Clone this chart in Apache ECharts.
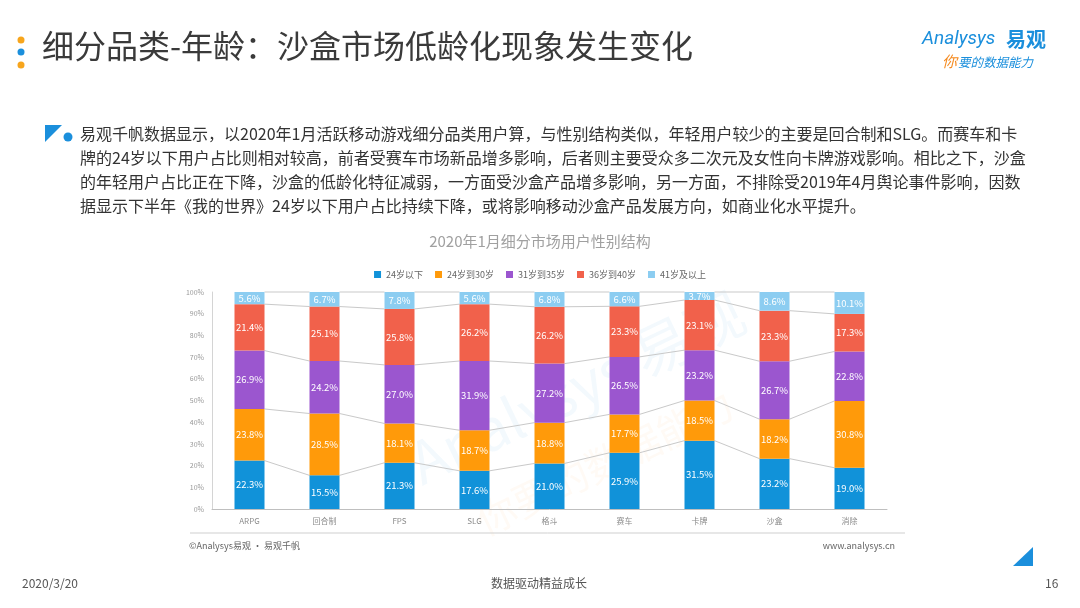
<!DOCTYPE html>
<html>
<head>
<meta charset="utf-8">
<script src="https://cdn.jsdelivr.net/npm/echarts@6/dist/echarts.min.js"></script>
<style>
  html, body { margin: 0; padding: 0; background: #fff; }
  #main { width: 1080px; height: 608px; }
</style>
</head>
<body>
<div id="main"></div>
<script>
// 数据
var categories = ['ARPG', '回合制', 'FPS', 'SLG', '格斗', '赛车', '卡牌', '沙盒', '消除'];
var seriesNames = ['24岁以下', '24岁到30岁', '31岁到35岁', '36岁到40岁', '41岁及以上'];
var under24 = [22.3, 15.5, 21.3, 17.6, 21.0, 25.9, 31.5, 23.2, 19.0];
var age24to30 = [23.8, 28.5, 18.1, 18.7, 18.8, 17.7, 18.5, 18.2, 30.8];
var age31to35 = [26.9, 24.2, 27.0, 31.9, 27.2, 26.5, 23.2, 26.7, 22.8];
var age36to40 = [21.4, 25.1, 25.8, 26.2, 26.2, 23.3, 23.1, 23.3, 17.3];
var over41 = [5.6, 6.7, 7.8, 5.6, 6.8, 6.6, 3.7, 8.6, 10.1];
var yTicks = [0, 10, 20, 30, 40, 50, 60, 70, 80, 90, 100];

var colors = ['#1192d9', '#ff9a0a', '#9b56cf', '#f1614b', '#8ccdf1'];
var allData = [under24, age24to30, age31to35, age36to40, over41];

// 累计值，用来画柱子之间的连接线
var cum = categories.map(function (c, i) {
    var s = 0;
    return allData.map(function (arr) { s += arr[i]; return s; });
});
var linkData = [];
for (var i = 0; i < categories.length - 1; i++) {
    linkData.push([i].concat(cum[i], cum[i + 1]));
}

var myChart = echarts.init(document.getElementById('main'));
var cjk = '"Noto Sans CJK SC", "Noto Sans", sans-serif';

var series = allData.map(function (arr, k) {
    return {
        name: seriesNames[k],
        type: 'bar',
        stack: 'total',
        barWidth: '40%',
        z: 3,
        data: arr,
        itemStyle: { color: colors[k] },
        label: {
            show: true,
            position: 'inside',
            color: '#fff',
            fontSize: 9.5,
            fontFamily: cjk,
            formatter: function (p) { return p.value.toFixed(1) + '%'; }
        }
    };
});

series.push({
    type: 'custom',
    z: 2,
    silent: true,
    data: linkData,
    renderItem: function (params, api) {
        var idx = api.value(0);
        var half = api.size([1, 0])[0] * 0.4 / 2;
        var children = [];
        for (var k = 0; k < 5; k++) {
            var p1 = api.coord([idx, api.value(1 + k)]);
            var p2 = api.coord([idx + 1, api.value(6 + k)]);
            children.push({
                type: 'line',
                shape: { x1: p1[0] + half, y1: p1[1], x2: p2[0] - half, y2: p2[1] },
                style: { stroke: '#c9c9c9', lineWidth: 1 }
            });
        }
        return { type: 'group', children: children };
    }
});

var paraLines = [
    '易观千帆数据显示，以2020年1月活跃移动游戏细分品类用户算，与性别结构类似，年轻用户较少的主要是回合制和SLG。而赛车和卡',
    '牌的24岁以下用户占比则相对较高，前者受赛车市场新品增多影响，后者则主要受众多二次元及女性向卡牌游戏影响。相比之下，沙盒',
    '的年轻用户占比正在下降，沙盒的低龄化特征减弱，一方面受沙盒产品增多影响，另一方面，不排除受2019年4月舆论事件影响，因数',
    '据显示下半年《我的世界》24岁以下用户占比持续下降，或将影响移动沙盒产品发展方向，如商业化水平提升。'
];

var graphics = [
    // 标题左侧圆点
    { type: 'circle', shape: { cx: 21, cy: 40, r: 3.5 }, style: { fill: '#f7a51c' } },
    { type: 'circle', shape: { cx: 21, cy: 52, r: 3.5 }, style: { fill: '#1b8fdc' } },
    { type: 'circle', shape: { cx: 21, cy: 65, r: 3.5 }, style: { fill: '#f7a51c' } },
    { type: 'text', left: 42, top: 30, style: { text: '细分品类-年龄：沙盒市场低龄化现象发生变化', fontSize: 32, fill: '#3a3a3a', fontFamily: cjk } },
    // logo
    { type: 'text', left: 922, top: 30, style: { text: 'Analysys', fontSize: 19, fontStyle: 'italic', fill: '#1b8fdc', fontFamily: 'Roboto, sans-serif' } },
    { type: 'text', left: 1006, top: 29, style: { text: '易观', fontSize: 20, fontWeight: 'bold', fill: '#1b8fdc', fontFamily: cjk } },
    { type: 'text', left: 942, top: 54, style: { text: '你', fontSize: 15, fontStyle: 'italic', fill: '#f58a1f', fontFamily: cjk } },
    { type: 'text', left: 958, top: 56, style: { text: '要的数据能力', fontSize: 12.5, fontStyle: 'italic', fill: '#1b8fdc', fontFamily: cjk } },
    // 段落图标
    { type: 'polygon', shape: { points: [[45, 125], [62, 125], [45, 142]] }, style: { fill: '#1b8fdc' } },
    { type: 'circle', shape: { cx: 68, cy: 137, r: 4.5 }, style: { fill: '#1b8fdc' } },
    // 水印
    { type: 'text', x: 400, y: 440, rotation: Math.PI / 7, style: { text: 'Analysys 易观', fontSize: 58, fill: 'rgba(17,146,217,0.05)', fontFamily: cjk } },
    { type: 'text', x: 470, y: 505, rotation: Math.PI / 7, style: { text: '你要的数据能力', fontSize: 40, fill: 'rgba(245,138,31,0.045)', fontFamily: cjk } },
    // 底部
    { type: 'line', shape: { x1: 190, y1: 533, x2: 905, y2: 533 }, style: { stroke: '#cfcfcf', lineWidth: 1 } },
    { type: 'text', left: 189, top: 541, style: { text: '©Analysys易观 · 易观千帆', fontSize: 9, fill: '#666', fontFamily: cjk } },
    { type: 'text', right: 185, top: 541, style: { text: 'www.analysys.cn', fontSize: 9, fill: '#666', fontFamily: cjk } },
    { type: 'polygon', shape: { points: [[1033, 547], [1033, 566], [1013, 566]] }, style: { fill: '#1b8fdc' } },
    { type: 'text', left: 22, top: 577, style: { text: '2020/3/20', fontSize: 12, fill: '#555', fontFamily: cjk } },
    { type: 'text', left: 491, top: 577, style: { text: '数据驱动精益成长', fontSize: 12, fill: '#555', fontFamily: cjk } },
    { type: 'text', left: 1045, top: 577, style: { text: '16', fontSize: 12, fill: '#555', fontFamily: cjk } }
];
paraLines.forEach(function (t, n) {
    graphics.push({
        type: 'text', left: 80, top: 126 + n * 24,
        style: { text: t, fontSize: 16, fill: '#333', fontFamily: cjk }
    });
});

var option = {
    animation: false,
    backgroundColor: '#fff',
    title: {
        text: '2020年1月细分市场用户性别结构',
        left: 'center',
        top: 229,
        textStyle: { fontSize: 15, fontWeight: 'normal', color: '#a0a0a0', fontFamily: cjk }
    },
    legend: {
        data: seriesNames,
        top: 265,
        left: 'center',
        icon: 'rect',
        itemWidth: 7,
        itemHeight: 7,
        itemGap: 12,
        textStyle: { fontSize: 9, color: '#666', fontFamily: cjk }
    },
    grid: { left: 212, right: 193, top: 292, bottom: 99, containLabel: false },
    xAxis: {
        type: 'category',
        data: categories,
        axisLine: { lineStyle: { color: '#bfbfbf' } },
        axisTick: { show: false },
        axisLabel: { fontSize: 8, color: '#8c8c8c', margin: 8, fontFamily: cjk }
    },
    yAxis: {
        type: 'value',
        min: yTicks[0],
        max: yTicks[yTicks.length - 1],
        interval: yTicks[1] - yTicks[0],
        axisLine: { show: true, lineStyle: { color: '#d4d4d4' } },
        axisTick: { show: false },
        splitLine: { show: false },
        axisLabel: { fontSize: 7, color: '#999', margin: 8, formatter: '{value}%', fontFamily: cjk }
    },
    series: series,
    graphic: graphics
};
myChart.setOption(option);
</script>
</body>
</html>
